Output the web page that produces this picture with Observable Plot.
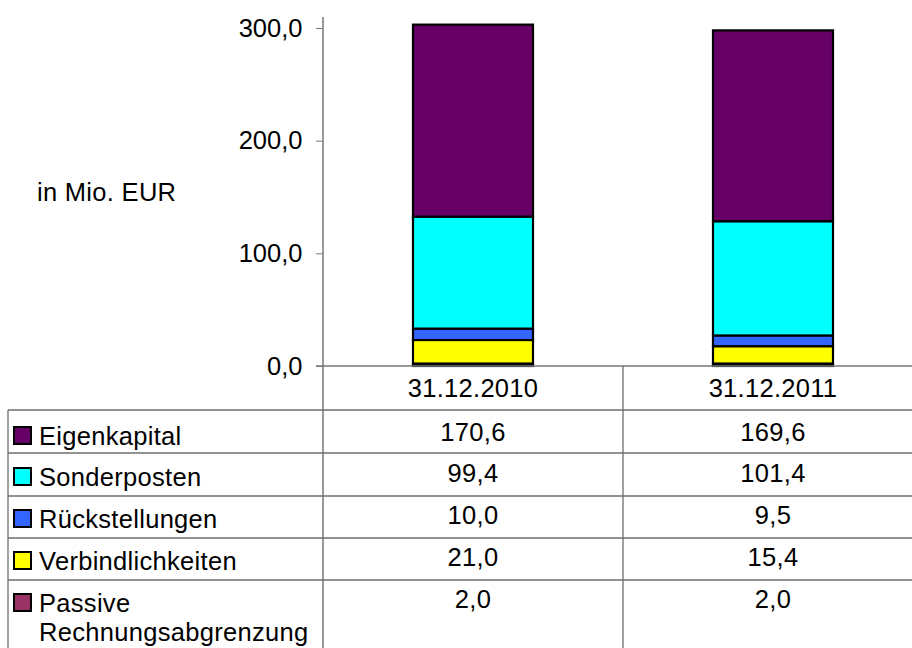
<!DOCTYPE html>
<html><head><meta charset="utf-8">
<script src="https://cdn.jsdelivr.net/npm/d3@7"></script>
<script src="https://cdn.jsdelivr.net/npm/@observablehq/plot@0.6"></script>
<style>
body{margin:0;background:#fff;}
svg{font-family:"Liberation Sans",Arial,Helvetica,sans-serif;}
</style>
</head><body><div id="chart"></div>
<script>
// ---- data ----
const dates = ["31.12.2010", "31.12.2011"];
const seriesNames = ["Eigenkapital", "Sonderposten", "Rückstellungen", "Verbindlichkeiten", "Passive Rechnungsabgrenzung"];
const seriesColors = ["#660066", "#00FFFF", "#3366FF", "#FFFF00", "#993366"];
const eigenkapital = [170.6, 169.6];
const sonderposten = [99.4, 101.4];
const rueckstellungen = [10.0, 9.5];
const verbindlichkeiten = [21.0, 15.4];
const passiveRA = [2.0, 2.0];
const yTicks = [0, 100, 200, 300];
const yLabel = "in Mio. EUR";

const valuesBySeries = [eigenkapital, sonderposten, rueckstellungen, verbindlichkeiten, passiveRA];
const stackOrder = [...seriesNames].reverse(); // bottom -> top
const fmt = v => v.toFixed(1).replace(".", ",");

const data = [];
seriesNames.forEach((s, i) => dates.forEach((d, j) => data.push({date: d, series: s, value: valuesBySeries[i][j]})));

const W = 912, H = 648, FS = 25.5, LS = "0.3px";
const plot = Plot.plot({
  width: W, height: H,
  marginTop: 28, marginBottom: 282, marginLeft: 323, marginRight: 0,
  style: {fontFamily: "Liberation Sans, Arial, sans-serif", fontSize: FS + "px", color: "#000", background: "#fff", overflow: "visible"},
  x: {domain: dates, range: [323, 923], paddingInner: 0.6, paddingOuter: 0.3, axis: null},
  y: {domain: [0, 300], axis: null},
  color: {domain: seriesNames, range: seriesColors},
  marks: [
    Plot.barY(data, Plot.stackY({x: "date", y: "value", fill: "series", order: stackOrder, stroke: "#000", strokeWidth: 2.2})),
    Plot.axisY({ticks: yTicks, tickFormat: fmt, tickSize: 7, tickPadding: 14, stroke: "#777", fill: "#000", fontSize: FS, label: null, style: "letter-spacing:" + LS})
  ]
});
document.getElementById("chart").appendChild(plot);

// ---- table + axis lines drawn from the scales ----
const svg = d3.select(plot);
const xs = plot.scale("x"), ys = plot.scale("y");
const bw = xs.bandwidth, step = xs.step;
const off = (step - bw) / 2;
const axisX = 323, y0 = ys.apply(0);
const tableLeft = 8;
const rowTops = [y0, 410, 453, 496, 538, 580];
const gridColor = "#6e6e6e";
const g = svg.append("g");

const line = (x1, y1, x2, y2, c = gridColor, w = 1.3) => g.append("line").attr("x1", x1).attr("y1", y1).attr("x2", x2).attr("y2", y2).attr("stroke", c).attr("stroke-width", w);
line(axisX, 17, axisX, H, "#777", 1.5);
line(316, y0, W, y0, "#777", 1.5);
rowTops.slice(1).forEach(t => line(tableLeft, t, W, t));
line(tableLeft, rowTops[1], tableLeft, H);
dates.forEach((d, j) => { if (j > 0) line(xs.apply(d) - off, y0, xs.apply(d) - off, H); });

const txt = (x, y, s, anchor = "start") => g.append("text").attr("x", x).attr("y", y).attr("text-anchor", anchor)
  .attr("font-size", FS).attr("fill", "#000").style("letter-spacing", LS).text(s);

// header row
dates.forEach(d => txt(xs.apply(d) + bw / 2, y0 + 31, d, "middle"));
// y label
txt(37, 201, yLabel);

// body rows
const baselines = [445, 486, 528, 570, 612];
seriesNames.forEach((s, i) => {
  const b = baselines[i];
  g.append("rect").attr("x", 14).attr("y", b - 18).attr("width", 17).attr("height", 17)
    .attr("fill", seriesColors[i]).attr("stroke", "#000").attr("stroke-width", 2);
  if (s === "Passive Rechnungsabgrenzung") {
    txt(39, b, "Passive");
    txt(39, b + 29, "Rechnungsabgrenzung");
  } else {
    txt(39, b, s);
  }
  dates.forEach((d, j) => txt(xs.apply(d) + bw / 2, b - 4, fmt(valuesBySeries[i][j]), "middle"));
});
</script>
</body></html>
